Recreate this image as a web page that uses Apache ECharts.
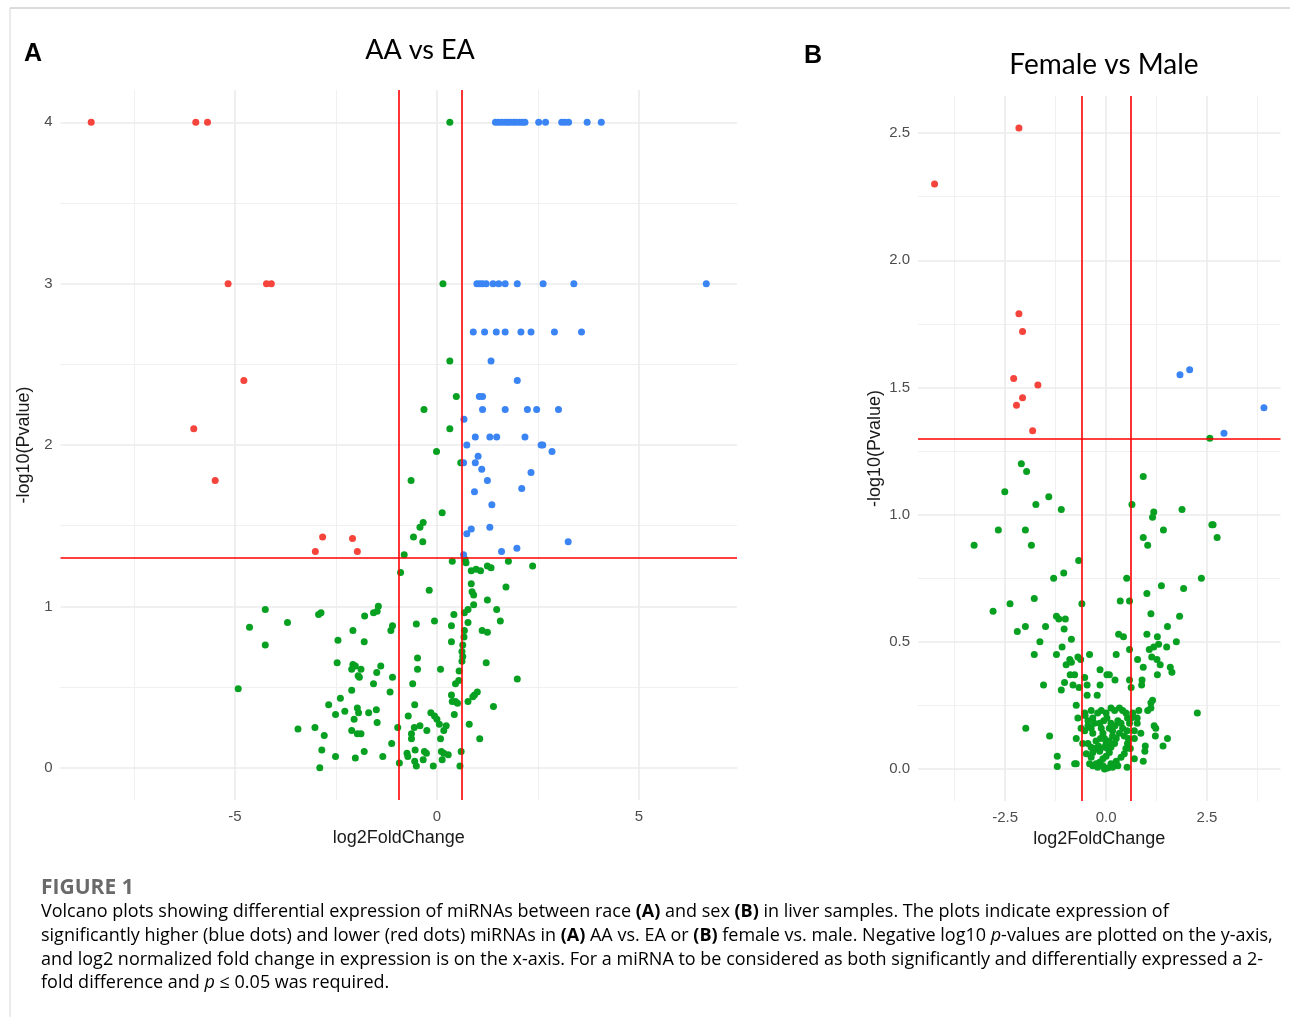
<!DOCTYPE html>
<html>
<head>
<meta charset="utf-8">
<script src="https://cdn.jsdelivr.net/npm/echarts@6/dist/echarts.min.js"></script>
<style>
  html, body { margin: 0; padding: 0; background: #fff; }
  #chart { width: 1290px; height: 1017px; }
</style>
</head>
<body>
<div id="chart"></div>
<script>
// ---- panel A: AA vs EA  [log2FoldChange, -log10(Pvalue)] ----
const aaDown = [[-8.56,4],[-5.97,4],[-5.68,4],[-5.17,3],[-4.22,3],[-4.10,3],[-4.78,2.40],[-6.02,2.10],
  [-5.49,1.78],[-2.83,1.43],[-2.09,1.42],[-3.01,1.34],[-1.97,1.34]];
const aaUp = [[1.45,4],[1.52,4],[1.6,4],[1.68,4],[1.75,4],[1.82,4],[1.9,4],[1.97,4],[2.05,4],[2.12,4],[2.18,4],
  [2.52,4],[2.69,4],[3.09,4],[3.17,4],[3.26,4],[3.72,4],[4.07,4],
  [0.99,3],[1.06,3],[1.13,3],[1.22,3],[1.39,3],[1.53,3],[1.69,3],[1.99,3],[2.63,3],[3.39,3],[6.67,3],
  [0.90,2.7],[1.18,2.7],[1.47,2.7],[1.69,2.7],[2.08,2.7],[2.33,2.7],[2.91,2.7],[3.58,2.7],
  [1.34,2.52],[1.99,2.40],[1.05,2.30],[1.13,2.30],[1.13,2.22],[1.69,2.22],[2.24,2.22],[2.47,2.22],[3.01,2.22],
  [0.67,2.16],[0.95,2.05],[1.31,2.05],[1.48,2.05],[2.18,2.05],[0.74,2.0],[2.58,2.0],[2.62,2.0],[2.85,1.96],
  [1.02,1.93],[0.66,1.89],[0.95,1.89],[1.11,1.85],[1.25,1.78],[2.33,1.83],[2.10,1.73],[0.93,1.71],[1.36,1.63],
  [0.85,1.48],[0.74,1.45],[1.31,1.49],[3.25,1.40],[1.60,1.34],[1.98,1.36],[0.66,1.32]];
const aaNs = [[0.32,4],[0.15,3],[0.32,2.52],[0.48,2.30],[-0.32,2.22],[0.32,2.10],[-0.01,1.96],[0.59,1.89],
  [-0.64,1.78],[0.13,1.58],[-0.34,1.52],[-0.42,1.49],[-0.58,1.43],[-0.35,1.40],[-0.81,1.32],
  [0.38,1.28],[0.72,1.27],[0.70,1.29],[1.77,1.28],[2.37,1.25],[0.85,1.22],[0.97,1.23],[1.08,1.22],[1.25,1.25],
  [1.34,1.24],[-0.90,1.21],[0.85,1.14],[1.71,1.12],[-0.19,1.10],[0.87,1.09],[0.91,1.07],[1.25,1.04],[0.91,1.01],
  [-1.45,1.0],[-1.48,0.97],[-1.57,0.96],[0.77,0.98],[0.68,0.96],[0.42,0.95],[1.48,0.98],[-4.25,0.98],[-2.87,0.96],
  [-2.93,0.95],[-1.79,0.94],[-3.70,0.90],[-4.64,0.87],[-2.08,0.85],[-1.14,0.85],[-1.10,0.88],[-0.51,0.89],
  [-0.06,0.91],[0.36,0.88],[0.77,0.90],[1.57,0.91],[0.68,0.85],[0.67,0.81],[1.12,0.85],[1.25,0.84],[-4.25,0.76],
  [-2.45,0.79],[-1.80,0.78],[0.36,0.78],[0.64,0.76],[0.62,0.72],[0.64,0.69],[0.62,0.66],[-2.47,0.65],[-2.08,0.64],
  [-2.02,0.63],[-2.11,0.61],[-1.88,0.61],[-1.39,0.63],[-1.49,0.59],[-0.48,0.68],[-0.48,0.61],[0.09,0.61],
  [0.55,0.60],[1.22,0.65],[-1.95,0.57],[-1.92,0.56],[-1.10,0.56],[1.99,0.55],[-1.57,0.52],[-0.60,0.52],
  [0.46,0.52],[0.54,0.54],[-4.92,0.49],[-2.11,0.48],[-1.16,0.47],[1.0,0.47],[0.93,0.45],[0.89,0.44],[0.77,0.41],
  [0.36,0.45],[0.38,0.41],[0.46,0.41],[0.51,0.40],[-2.39,0.43],[-2.68,0.39],[-0.55,0.39],[1.40,0.38],
  [-1.97,0.37],[-1.94,0.34],[-2.28,0.35],[-2.51,0.33],[-1.69,0.34],[-1.50,0.36],[-0.71,0.32],[-0.15,0.34],
  [-0.06,0.32],[0.0,0.30],[0.06,0.27],[0.43,0.33],[-2.05,0.30],[-1.48,0.28],[0.80,0.27],[-3.44,0.24],
  [-3.02,0.25],[-0.97,0.25],[-0.56,0.25],[-0.42,0.26],[0.23,0.26],[0.17,0.23],[-0.25,0.23],[-2.11,0.23],
  [-1.97,0.21],[-1.88,0.21],[-2.79,0.20],[-0.63,0.21],[-0.63,0.18],[0.09,0.18],[1.06,0.18],[-1.12,0.15],
  [-2.85,0.11],[-1.80,0.10],[-0.74,0.09],[-0.72,0.07],[-0.54,0.11],[-0.31,0.10],[-0.26,0.09],[-0.34,0.05],
  [0.11,0.10],[0.17,0.09],[0.28,0.08],[0.60,0.10],[-2.51,0.07],[-2.02,0.06],[-1.34,0.07],[0.13,0.05],
  [-0.93,0.03],[-0.55,0.04],[-0.51,0.01],[-0.09,0.01],[0.57,0.01],[-2.90,0.0]];

// ---- panel B: Female vs Male ----
const fmDown = [[-4.25,2.30],[-2.16,2.52],[-2.16,1.79],[-2.07,1.72],[-2.29,1.535],[-1.69,1.51],[-2.07,1.46],
  [-2.22,1.43],[-1.82,1.33]];
const fmUp = [[1.83,1.55],[2.07,1.57],[3.91,1.42],[2.92,1.32]];
const fmNs = [[2.57,1.30],
  [-2.10,1.20],[-1.97,1.17],[0.92,1.15],[-2.51,1.09],[-1.42,1.07],[-1.74,1.04],[0.64,1.04],[-1.11,1.02],
  [1.18,1.01],[1.15,0.99],[1.88,1.02],[-2.67,0.94],[-2.0,0.94],[1.42,0.94],[2.62,0.96],[2.65,0.96],[2.75,0.91],
  [-3.27,0.88],[-1.85,0.88],[0.92,0.91],[1.03,0.88],[-0.68,0.82],[-1.05,0.77],[-1.30,0.75],[0.51,0.75],
  [2.36,0.75],[1.37,0.72],[1.92,0.71],[1.01,0.69],[-1.78,0.67],[0.35,0.66],[0.58,0.66],[-2.38,0.65],
  [-0.60,0.65],[-2.80,0.62],[1.11,0.61],[1.82,0.60],[-1.23,0.60],[-1.17,0.59],[-1.01,0.59],[-2.0,0.56],
  [-1.50,0.56],[-1.04,0.55],[1.52,0.56],[-2.20,0.54],[0.31,0.53],[0.43,0.52],[1.01,0.53],[1.27,0.52],
  [-0.86,0.51],[-1.64,0.50],[1.74,0.50],[1.50,0.48],[1.30,0.49],[1.18,0.48],[1.07,0.47],[-1.09,0.48],[0.58,0.47],
  [-1.78,0.45],[-1.23,0.45],[-0.41,0.45],[-0.99,0.41],[-0.86,0.42],[-0.90,0.43],[-0.70,0.44],[-0.63,0.43],
  [-0.15,0.39],[-1.55,0.33],[-1.11,0.31],[-1.03,0.34],[-0.89,0.37],[-0.78,0.37],[-0.82,0.33],[-0.67,0.32],
  [-0.53,0.36],[-0.47,0.33],[-0.15,0.33],[0.02,0.37],[0.08,0.37],[0.22,0.35],[0.25,0.45],[0.78,0.43],
  [0.92,0.40],[0.58,0.35],[0.62,0.32],[0.89,0.35],[0.88,0.33],[1.13,0.44],[1.26,0.43],[1.34,0.41],[1.27,0.37],
  [1.59,0.40],[1.63,0.38],[-0.47,0.29],[-0.22,0.29],[-0.74,0.25],[2.26,0.22],[-1.99,0.16],[-1.40,0.13],
  [-0.74,0.12],[-0.70,0.20],[-0.53,0.22],[1.03,0.23],[1.11,0.24],[1.15,0.27],[1.11,0.26],[0.81,0.23],
  [0.77,0.20],[0.77,0.18],[0.86,0.14],[1.19,0.17],[1.23,0.16],[1.22,0.13],[1.52,0.12],[1.41,0.09],[0.70,0.12],
  [0.97,0.09],[0.96,0.07],[0.92,0.03],[0.70,0.04],[-1.21,0.05],[-1.21,0.01],[-0.78,0.02],[-0.74,0.02],
  [-0.62,0.16],[-0.53,0.15],[-0.45,0.17],[-0.37,0.16],[-0.29,0.18],[-0.33,0.14],[-0.25,0.11],[-0.45,0.10],
  [-0.58,0.10],[-0.37,0.085],[-0.27,0.08],[-0.16,0.18],[-0.12,0.16],[-0.08,0.14],[-0.04,0.12],[0,0.10],
  [0.04,0.08],[-0.06,0.19],[0.02,0.20],[0.12,0.18],[0.08,0.16],[0.16,0.15],[0.22,0.17],[0.29,0.19],[0.37,0.18],
  [0.41,0.16],[0.33,0.14],[0.25,0.12],[0.21,0.10],[0.12,0.085],[0.08,0.065],[0,0.05],[-0.08,0.04],[-0.16,0.026],
  [-0.25,0.02],[-0.33,0.013],[-0.41,0.02],[-0.21,0.007],[-0.04,0],[0.12,0.02],[0.25,0.03],[0.37,0.046],
  [0.45,0.06],[0.49,0.08],[0.53,0.10],[0.55,0.12],[0.45,0.13],[0.52,0.15],[0.58,0.18],[0.53,0.20],[0.49,0.22],
  [0.41,0.23],[0.33,0.24],[0.21,0.23],[0.12,0.24],[0,0.22],[-0.12,0.23],[-0.21,0.22],[-0.33,0.20],[-0.45,0.19],
  [-0.52,0.21],[-0.37,0.23],[0.62,0.20],[0.66,0.22],[0.70,0.15],[0.60,0.08],[0.52,0.007],[0.29,0.013],
  [0.16,0.007],[0.04,0.004],[-0.08,0.013],[-0.37,0.046],[-0.49,0.06],[-0.33,0.065],[-0.16,0.07],[-0.04,0.085],
  [0.08,0.11],[0.16,0.13],[-0.14,0.12],[-0.19,0.09]];

// ticks / gridlines / cut-offs
const aaXTicks = [-5, 0, 5];
const aaXMinor = [-7.5, -2.5, 2.5];
const aaYTicks = [0, 1, 2, 3, 4];
const aaYMinor = [0.5, 1.5, 2.5, 3.5];
const fmXTicks = [-2.5, 0, 2.5];
const fmXMinor = [-3.75, -1.25, 1.25, 3.75];
const fmYTicks = [0, 0.5, 1, 1.5, 2, 2.5];
const fmYMinor = [0.25, 0.75, 1.25, 1.75, 2.25];
const aaFcCut = [-0.95, 0.62];
const fmFcCut = [-0.60, 0.62];
const pCut = 1.30;

const captionLines = [
  '{n|Volcano plots showing differential expression of miRNAs between race }{b|(A)}{n| and sex }{b|(B)}{n| in liver samples. The plots indicate expression of}',
  '{n|significantly higher (blue dots) and lower (red dots) miRNAs in }{b|(A)}{n| AA vs. EA or }{b|(B)}{n| female vs. male. Negative log10 }{i|p}{n|-values are plotted on the y-axis,}',
  '{n|and log2 normalized fold change in expression is on the x-axis. For a miRNA to be considered as both significantly and differentially expressed a 2-}',
  '{n|fold difference and }{i|p}{n| ≤ 0.05 was required.}'
];

const RED = '#f5443b', BLUE = '#3a84f4', GREEN = '#07a021';
const TICK = '#4d4d4d';
const AXFONT = 'Liberation Sans';

// gridlines and cut-off lines are markLines on empty scatter series
function lineSeries(xi, xs, ys, width, color, z) {
  return {
    type: 'scatter', xAxisIndex: xi, yAxisIndex: xi, data: [], silent: true, z: z,
    markLine: {
      symbol: 'none', silent: true, animation: false, label: { show: false }, z: z,
      lineStyle: { color: color, width: width, type: 'solid' },
      data: xs.map(v => ({ xAxis: v })).concat(ys.map(v => ({ yAxis: v })))
    }
  };
}
function pts(xi, data, color) {
  return { type: 'scatter', xAxisIndex: xi, yAxisIndex: xi, data: data, symbolSize: 7,
    itemStyle: { color: color, opacity: 1 }, z: 10, silent: true };
}
function xAx(gi, min, max, ticks, fmt) {
  return {
    type: 'value', gridIndex: gi, min: min, max: max,
    name: 'log2FoldChange', nameLocation: 'middle', nameGap: 29,
    nameTextStyle: { fontFamily: AXFONT, fontSize: 18, color: '#1a1a1a' },
    axisLine: { show: false }, axisTick: { show: false }, splitLine: { show: false },
    axisLabel: { customValues: ticks, fontFamily: AXFONT, fontSize: 15, color: TICK, margin: 9, formatter: fmt }
  };
}
function yAx(gi, min, max, ticks, fmt, gap) {
  return {
    type: 'value', gridIndex: gi, min: min, max: max,
    name: '-log10(Pvalue)', nameLocation: 'middle', nameGap: gap, nameRotate: 90,
    nameTextStyle: { fontFamily: AXFONT, fontSize: 18, color: '#1a1a1a' },
    axisLine: { show: false }, axisTick: { show: false }, splitLine: { show: false },
    axisLabel: { customValues: ticks, fontFamily: AXFONT, fontSize: 15, color: TICK, margin: 8, formatter: fmt }
  };
}

const chart = echarts.init(document.getElementById('chart'), null, { renderer: 'canvas' });

const graphics = [
  { type: 'line', shape: { x1: 10, y1: 8, x2: 1290, y2: 8 }, style: { stroke: '#cfcfcf', lineWidth: 1.5 } },
  { type: 'line', shape: { x1: 10, y1: 8, x2: 10, y2: 1017 }, style: { stroke: '#d6d6d6', lineWidth: 1 } },
  { type: 'text', x: 24, y: 42, style: { text: 'A', font: 'bold 25px "Liberation Sans"', fill: '#000' } },
  { type: 'text', x: 804, y: 44, style: { text: 'B', font: 'bold 25px "Liberation Sans"', fill: '#000' } },
  { type: 'text', x: 420, y: 50, style: { text: 'AA vs EA', font: '27px Lato', fill: '#000', align: 'center', verticalAlign: 'middle' } },
  { type: 'text', x: 1104, y: 65, style: { text: 'Female vs Male', font: '28px Lato', fill: '#000', align: 'center', verticalAlign: 'middle' } },
  { type: 'text', x: 41, y: 888, style: { text: 'FIGURE 1', font: 'bold 21px "Open Sans"', fill: '#6a6a6a', verticalAlign: 'middle' } }
];
captionLines.forEach((t, i) => {
  graphics.push({
    type: 'text', x: 41, y: 912 + i * 23.7,
    style: {
      text: t, verticalAlign: 'middle',
      rich: {
        n: { fontFamily: 'Open Sans', fontSize: 18, color: '#555' },
        b: { fontFamily: 'Open Sans', fontSize: 18, fontWeight: 'bold', color: '#444' },
        i: { fontFamily: 'Open Sans', fontSize: 18, fontStyle: 'italic', color: '#555' }
      }
    }
  });
});

chart.setOption({
  animation: false,
  backgroundColor: '#ffffff',
  grid: [
    { left: 60.5, top: 90, width: 676.5, height: 710 },
    { left: 918, top: 96, width: 362.5, height: 705 }
  ],
  xAxis: [
    xAx(0, -9.32, 7.43, aaXTicks, v => String(v)),
    xAx(1, -4.66, 4.32, fmXTicks, v => v.toFixed(1))
  ],
  yAxis: [
    yAx(0, -0.2, 4.2, aaYTicks, v => String(v), 13),
    yAx(1, -0.126, 2.646, fmYTicks, v => v.toFixed(1), 34)
  ],
  graphic: graphics,
  series: [
    lineSeries(0, aaXMinor, aaYMinor, 1, '#f0f0f0', 1),
    lineSeries(0, aaXTicks, aaYTicks, 1.6, '#ebebeb', 1),
    lineSeries(1, fmXMinor, fmYMinor, 1, '#f0f0f0', 1),
    lineSeries(1, fmXTicks, fmYTicks, 1.6, '#ebebeb', 1),
    pts(0, aaNs, GREEN), pts(0, aaDown, RED), pts(0, aaUp, BLUE),
    pts(1, fmNs, GREEN), pts(1, fmDown, RED), pts(1, fmUp, BLUE),
    lineSeries(0, aaFcCut, [pCut], 1.6, '#ff0000', 20),
    lineSeries(1, fmFcCut, [pCut], 1.6, '#ff0000', 20)
  ]
});
</script>
</body>
</html>
